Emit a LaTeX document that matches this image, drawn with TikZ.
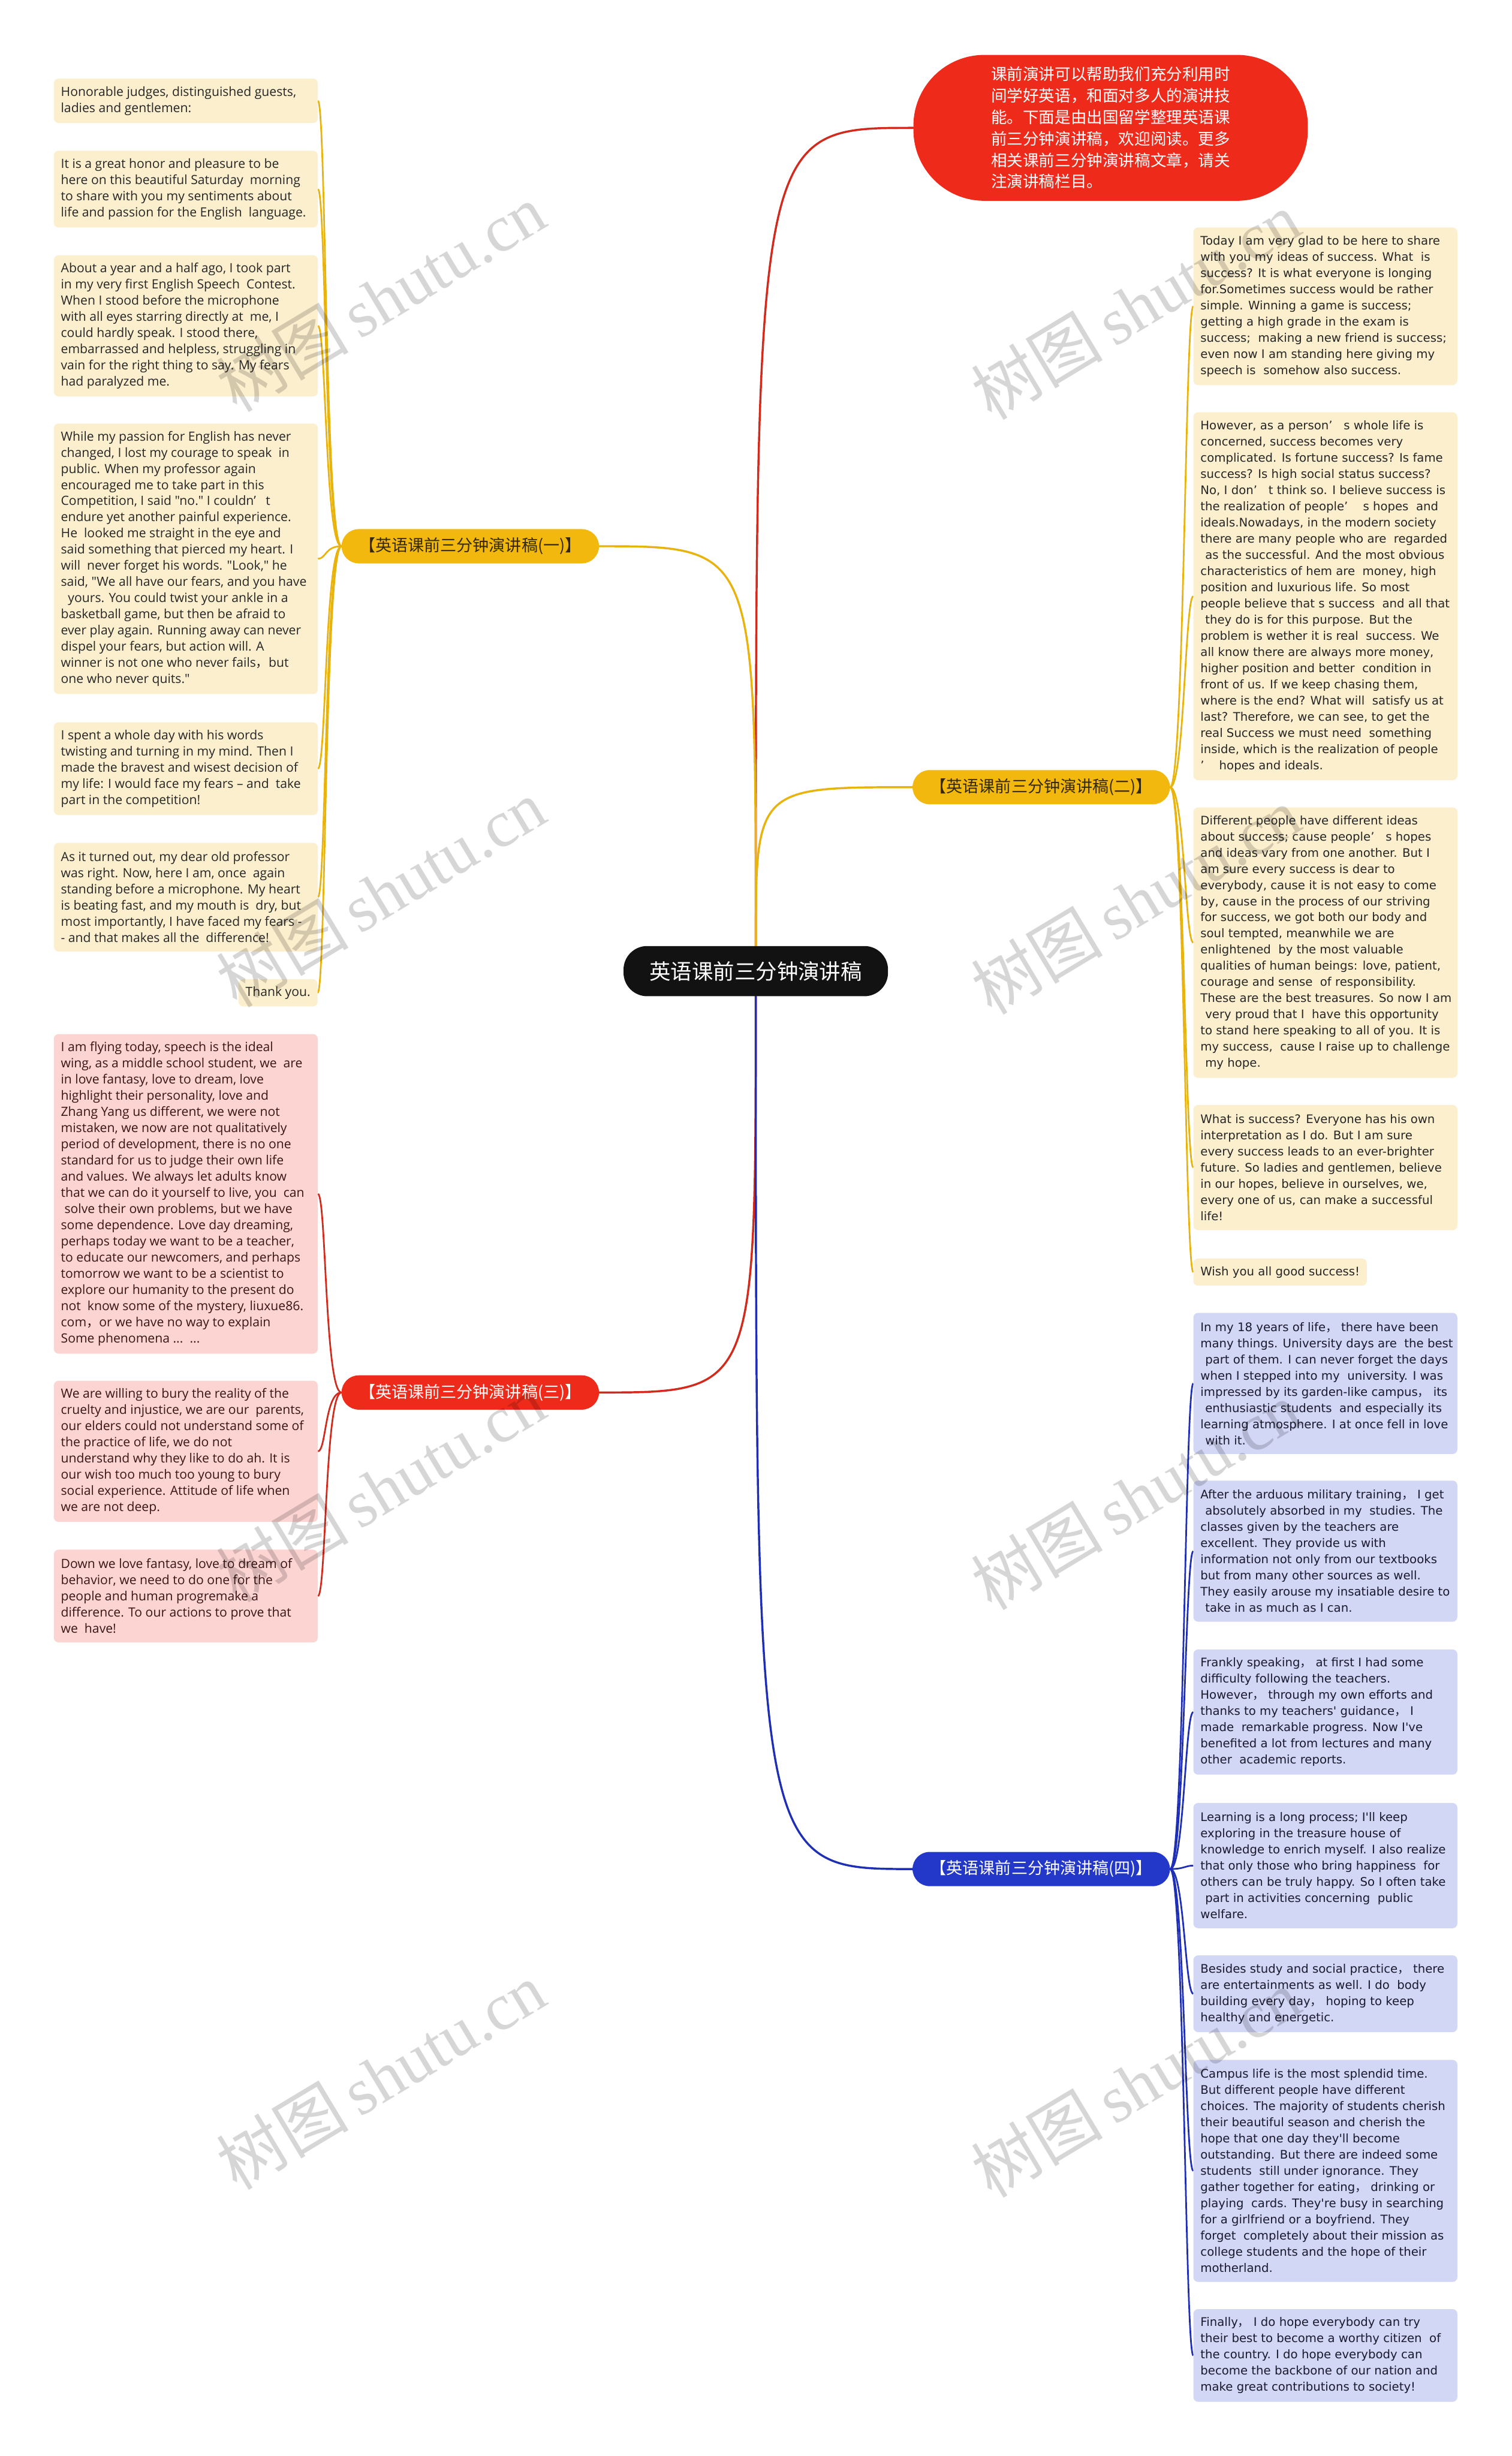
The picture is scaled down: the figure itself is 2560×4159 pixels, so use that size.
\documentclass[tikz,border=0pt]{standalone}
\usepackage{fontspec}
\setmainfont{Open Sans}
\newfontfamily\ops{Open Sans}
\newfontfamily\cjk{Noto Sans CJK SC}
\newfontfamily\dvs{DejaVu Sans}
\newfontfamily\wmser{Liberation Serif}
\newcommand\fwc{{\cjk ，}}
\definecolor{boxY}{HTML}{FCEFCE}
\definecolor{boxR}{HTML}{FCD5D3}
\definecolor{boxB}{HTML}{D3D7F6}
\definecolor{pillY}{HTML}{F2B80E}
\definecolor{pillR}{HTML}{EE2B1B}
\definecolor{pillB}{HTML}{2338C8}
\definecolor{lineY}{HTML}{E8B30C}
\definecolor{lineR}{HTML}{D32A1E}
\definecolor{lineB}{HTML}{1E2FB6}
\definecolor{txtY}{HTML}{262626}
\definecolor{txtR}{HTML}{3A1515}
\definecolor{txtB}{HTML}{1A1A2E}
\definecolor{txtP}{HTML}{33290A}
\pgfdeclarelayer{bg}
\pgfsetlayers{bg,main}
\tikzset{
  leafbox/.style={anchor=north west, minimum width=447, inner sep=0, rounded corners=8},
  ybox/.style={leafbox, fill=boxY},
  rbox/.style={leafbox, fill=boxR},
  bbox/.style={leafbox, fill=boxB},
  lefttxt/.style={anchor=west, inner xsep=12, inner ysep=0, align=left, font=\ops\fontsize{21.5}{27.4}\selectfont},
  righttxt/.style={anchor=west, inner xsep=12, inner ysep=0, align=left, font=\dvs\fontsize{20}{27.4}\selectfont},
  singlebox/.style={minimum height=46, inner xsep=12, inner ysep=0, rounded corners=8, fill=boxY},
  pill/.style={minimum width=436, minimum height=58, rounded corners=29, inner sep=0, font=\cjk\fontsize{27.5}{30}\selectfont},
  cnode/.style={fill=black!93, text=white, minimum width=448, minimum height=85, rounded corners=40, inner sep=0, font=\cjk\fontsize{36}{40}\selectfont},
  bubble/.style={fill=pillR, text=white, minimum width=668, minimum height=247, rounded corners=120, inner sep=0, align=left, font=\cjk\fontsize{27}{36.4}\selectfont},
  mainline/.style={line width=3.5, line cap=round},
  leafline/.style={line width=2.8},
  wm/.style={rotate=31, text=black, text opacity=0.16, inner sep=0, font=\wmser\fontsize{112}{112}\selectfont}
}
\begin{document}
\begin{tikzpicture}[x=1pt,y=-1pt]
\useasboundingbox (0,0) rectangle (2560,4159);
\begin{pgfonlayer}{bg}
\fill[white] (0,0) rectangle (2560,4159);
\end{pgfonlayer}

% ---------- centre, top bubble, branches ----------
\node[cnode] (c) at (1280,1644.5) {英语课前三分钟演讲稿};
\node[bubble] (t) at (1881,216.5) {课前演讲可以帮助我们充分利用时\\间学好英语，和面对多人的演讲技\\能。下面是由出国留学整理英语课\\前三分钟演讲稿，欢迎阅读。更多\\相关课前三分钟演讲稿文章，请关\\注演讲稿栏目。};
\node[pill, fill=pillY, text=txtP] (b1) at (796.5,925) {【英语课前三分钟演讲稿(一)】};
\node[pill, fill=pillY, text=txtP] (b2) at (1763.5,1333) {【英语课前三分钟演讲稿(二)】};
\node[pill, fill=pillR, text=white] (b3) at (796.5,2358) {【英语课前三分钟演讲稿(三)】};
\node[pill, fill=pillB, text=white] (b4) at (1763.5,3165) {【英语课前三分钟演讲稿(四)】};

% ---------- branch 1 leaves ----------
\node[ybox, minimum height=75] (a1) at (91,133) {};
\node[lefttxt, text=txtY] (a1t) at (a1.west) {Honorable judges, distinguished guests,\\ladies and gentlemen:};
\node[ybox, minimum height=130] (a2) at (91,255) {};
\node[lefttxt, text=txtY] (a2t) at (a2.west) {It is a great honor and pleasure to be\\here on this beautiful Saturday\ \ morning\\to share with you my sentiments about\\life and passion for the English\ \ language.};
\node[ybox, minimum height=239] (a3) at (91,432) {};
\node[lefttxt, text=txtY] (a3t) at (a3.west) {About a year and a half ago, I took part\\in my very first English Speech\ \ Contest.\\When I stood before the microphone\\with all eyes starring directly at\ \ me, I\\could hardly speak. I stood there,\\embarrassed and helpless, struggling in\\vain for the right thing to say. My fears\\had paralyzed me.};
\node[ybox, minimum height=458] (a4) at (91,717) {};
\node[lefttxt, text=txtY] (a4t) at (a4.west) {While my passion for English has never\\changed, I lost my courage to speak\ \ in\\public. When my professor again\\encouraged me to take part in this\\Competition, I said "no." I couldn’\ \ \ t\\endure yet another painful experience.\\He\ \ looked me straight in the eye and\\said something that pierced my heart. I\\will\ \ never forget his words. "Look," he\\said, "We all have our fears, and you have\\\hspace*{12pt}yours. You could twist your ankle in a\\basketball game, but then be afraid to\\ever play again. Running away can never\\dispel your fears, but action will. A\\winner is not one who never fails\fwc but\\one who never quits."};
\node[ybox, minimum height=157] (a5) at (91,1223) {};
\node[lefttxt, text=txtY] (a5t) at (a5.west) {I spent a whole day with his words\\twisting and turning in my mind. Then I\\made the bravest and wisest decision of\\my life: I would face my fears – and\ \ take\\part in the competition!};
\node[ybox, minimum height=184] (a6) at (91,1427) {};
\node[lefttxt, text=txtY] (a6t) at (a6.west) {As it turned out, my dear old professor\\was right. Now, here I am, once\ \ again\\standing before a microphone. My heart\\is beating fast, and my mouth is\ \ dry, but\\most importantly, I have faced my fears -\\- and that makes all the\ \ difference!};
\node[singlebox, anchor=north east, text=txtY, font=\ops\fontsize{21.5}{27.4}\selectfont] (a7) at (538,1658) {Thank you.};

% ---------- branch 2 leaves ----------
\node[ybox, minimum height=267] (r1) at (2021,385) {};
\node[righttxt, text=txtY] (r1t) at (r1.west) {Today I am very glad to be here to share\\with you my ideas of success. What\ \ is\\success? It is what everyone is longing\\for.Sometimes success would be rather\\simple. Winning a game is success;\\getting a high grade in the exam is\\success;\ \ making a new friend is success;\\even now I am standing here giving my\\speech is\ \ somehow also success.};
\node[ybox, minimum height=623] (r2) at (2021,698) {};
\node[righttxt, text=txtY] (r2t) at (r2.west) {However, as a person’\ \ \ s whole life is\\concerned, success becomes very\\complicated. Is fortune success? Is fame\\success? Is high social status success?\\No, I don’\ \ \ t think so. I believe success is\\the realization of people’\ \ \ \ s hopes\ \ and\\ideals.Nowadays, in the modern society\\there are many people who are\ \ regarded\\\hspace*{8pt}as the successful. And the most obvious\\characteristics of hem are\ \ money, high\\position and luxurious life. So most\\people believe that s success\ \ and all that\\\hspace*{8pt}they do is for this purpose. But the\\problem is wether it is real\ \ success. We\\all know there are always more money,\\higher position and better\ \ condition in\\front of us. If we keep chasing them,\\where is the end? What will\ \ satisfy us at\\last? Therefore, we can see, to get the\\real Success we must need\ \ something\\inside, which is the realization of people\\’\ \ \ \ hopes and ideals.};
\node[ybox, minimum height=458] (r3) at (2021,1367) {};
\node[righttxt, text=txtY] (r3t) at (r3.west) {Different people have different ideas\\about success; cause people’\ \ \ s hopes\\and ideas vary from one another. But I\\am sure every success is dear to\\everybody, cause it is not easy to come\\by, cause in the process of our striving\\for success, we got both our body and\\soul tempted, meanwhile we are\\enlightened\ \ by the most valuable\\qualities of human beings: love, patient,\\courage and sense\ \ of responsibility.\\These are the best treasures. So now I am\\\hspace*{8pt}very proud that I\ \ have this opportunity\\to stand here speaking to all of you. It is\\my success,\ \ cause I raise up to challenge\\\hspace*{8pt}my hope.};
\node[ybox, minimum height=212] (r4) at (2021,1871) {};
\node[righttxt, text=txtY] (r4t) at (r4.west) {What is success? Everyone has his own\\interpretation as I do. But I am sure\\every success leads to an ever-brighter\\future. So ladies and gentlemen, believe\\in our hopes, believe in ourselves, we,\\every one of us, can make a successful\\life!};
\node[singlebox, anchor=north west, text=txtY, font=\dvs\fontsize{20}{27.4}\selectfont] (r5) at (2021,2131) {Wish you all good success!};

% ---------- branch 3 leaves ----------
\node[rbox, minimum height=541] (p1) at (91,1751) {};
\node[lefttxt, text=txtR] (p1t) at (p1.west) {I am flying today, speech is the ideal\\wing, as a middle school student, we\ \ are\\in love fantasy, love to dream, love\\highlight their personality, love and\\Zhang Yang us different, we were not\\mistaken, we now are not qualitatively\\period of development, there is no one\\standard for us to judge their own life\\and values. We always let adults know\\that we can do it yourself to live, you\ \ can\\\hspace*{6pt}solve their own problems, but we have\\some dependence. Love day dreaming,\\perhaps today we want to be a teacher,\\to educate our newcomers, and perhaps\\tomorrow we want to be a scientist to\\explore our humanity to the present do\\not\ \ know some of the mystery, liuxue86.\\com\fwc or we have no way to explain\\Some phenomena ...\ \ ...};
\node[rbox, minimum height=239] (p2) at (91,2338) {};
\node[lefttxt, text=txtR] (p2t) at (p2.west) {We are willing to bury the reality of the\\cruelty and injustice, we are our\ \ parents,\\our elders could not understand some of\\the practice of life, we do not\\understand why they like to do ah. It is\\our wish too much too young to bury\\social experience. Attitude of life when\\we are not deep.};
\node[rbox, minimum height=157] (p3) at (91,2624) {};
\node[lefttxt, text=txtR] (p3t) at (p3.west) {Down we love fantasy, love to dream of\\behavior, we need to do one for the\\people and human progremake a\\difference. To our actions to prove that\\we\ \ have!};

% ---------- branch 4 leaves ----------
\node[bbox, minimum height=239] (q1) at (2021,2223) {};
\node[righttxt, text=txtB] (q1t) at (q1.west) {In my 18 years of life\fwc\ there have been\\many things. University days are\ \ the best\\\hspace*{8pt}part of them. I can never forget the days\\when I stepped into my\ \ university. I was\\impressed by its garden-like campus\fwc\ its\\\hspace*{8pt}enthusiastic students\ \ and especially its\\learning atmosphere. I at once fell in love\\\hspace*{8pt}with it.};
\node[bbox, minimum height=239] (q2) at (2021,2507) {};
\node[righttxt, text=txtB] (q2t) at (q2.west) {After the arduous military training\fwc\ I get\\\hspace*{8pt}absolutely absorbed in my\ \ studies. The\\classes given by the teachers are\\excellent. They provide us with\\information not only from our textbooks\\but from many other sources as well.\\They easily arouse my insatiable desire to\\\hspace*{8pt}take in as much as I can.};
\node[bbox, minimum height=212] (q3) at (2021,2793) {};
\node[righttxt, text=txtB] (q3t) at (q3.west) {Frankly speaking\fwc\ at first I had some\\difficulty following the teachers.\\However\fwc\ through my own efforts and\\thanks to my teachers' guidance\fwc\ I\\made\ \ remarkable progress. Now I've\\benefited a lot from lectures and many\\other\ \ academic reports.};
\node[bbox, minimum height=212] (q4) at (2021,3053) {};
\node[righttxt, text=txtB] (q4t) at (q4.west) {Learning is a long process; I'll keep\\exploring in the treasure house of\\knowledge to enrich myself. I also realize\\that only those who bring happiness\ \ for\\others can be truly happy. So I often take\\\hspace*{8pt}part in activities concerning\ \ public\\welfare.};
\node[bbox, minimum height=130] (q5) at (2021,3311) {};
\node[righttxt, text=txtB] (q5t) at (q5.west) {Besides study and social practice\fwc\ there\\are entertainments as well. I do\ \ body\\building every day\fwc\ hoping to keep\\healthy and energetic.};
\node[bbox, minimum height=376] (q6) at (2021,3488) {};
\node[righttxt, text=txtB] (q6t) at (q6.west) {Campus life is the most splendid time.\\But different people have different\\choices. The majority of students cherish\\their beautiful season and cherish the\\hope that one day they'll become\\outstanding. But there are indeed some\\students\ \ still under ignorance. They\\gather together for eating\fwc\ drinking or\\playing\ \ cards. They're busy in searching\\for a girlfriend or a boyfriend. They\\forget\ \ completely about their mission as\\college students and the hope of their\\motherland.};
\node[bbox, minimum height=157] (q7) at (2021,3910) {};
\node[righttxt, text=txtB] (q7t) at (q7.west) {Finally\fwc\ I do hope everybody can try\\their best to become a worthy citizen\ \ of\\the country. I do hope everybody can\\become the backbone of our nation and\\make great contributions to society!};

% ---------- connectors ----------
\begin{pgfonlayer}{bg}
\draw[mainline, lineR] (c.north) .. controls (c.north |- t.west) .. (t.west);
\draw[mainline, lineY] (c.north) .. controls (c.north |- b1.east) .. (b1.east);
\draw[mainline, lineY] (c.north) .. controls (c.north |- b2.west) .. (b2.west);
\draw[mainline, lineR] (c.south) .. controls (c.south |- b3.east) .. (b3.east);
\draw[mainline, lineB] (c.south) .. controls (c.south |- b4.west) .. (b4.west);
\foreach \n in {a1,a2,a3,a4,a5,a6,a7}
  \draw[leafline, lineY] (b1.west) .. controls +(-28,0) and +(14,0) .. (\n.east);
\foreach \n in {r1,r2,r3,r4,r5}
  \draw[leafline, lineY] (b2.east) .. controls +(24,0) and +(-14,0) .. (\n.west);
\foreach \n in {p1,p2,p3}
  \draw[leafline, lineR] (b3.west) .. controls +(-28,0) and +(14,0) .. (\n.east);
\foreach \n in {q1,q2,q3,q4,q5,q6,q7}
  \draw[leafline, lineB] (b4.east) .. controls +(24,0) and +(-14,0) .. (\n.west);
\end{pgfonlayer}

% ---------- watermarks ----------
\foreach \x/\y [count=\i] in {645/504, 1923/517, 645/1512, 1923/1525, 645/2520, 1923/2533, 645/3515, 1923/3528}
  \node[wm] (w\i) at (\x,\y) {{\cjk 树图}\,shutu.cn};
\end{tikzpicture}
\end{document}
